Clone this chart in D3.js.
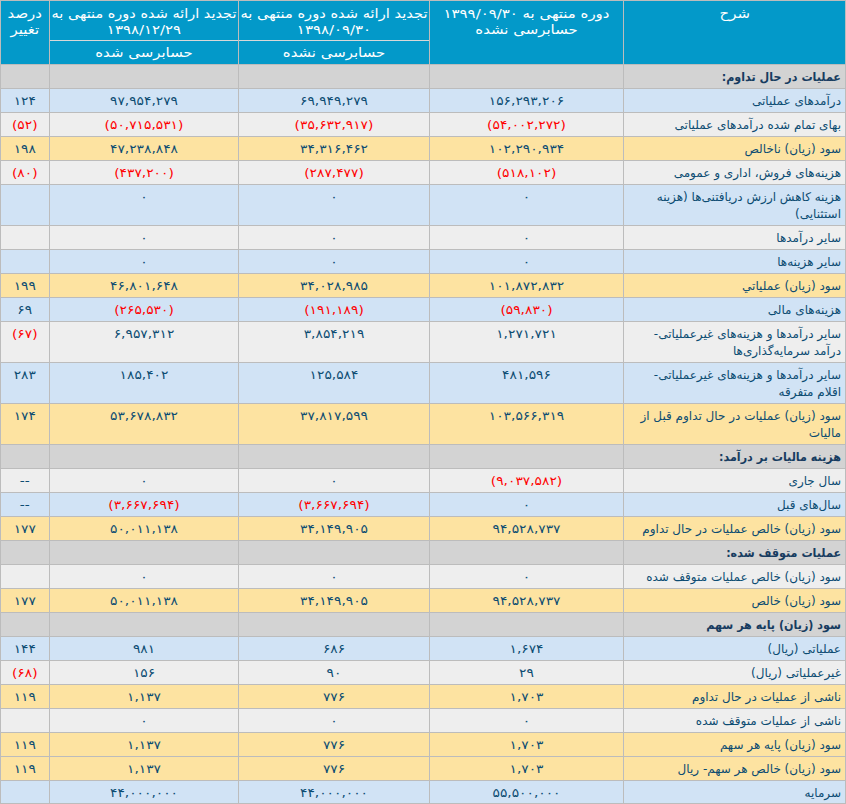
<!DOCTYPE html>
<html>
<head>
<meta charset="utf-8">
<script src="https://cdn.jsdelivr.net/npm/d3@7"></script>
<style>
  html, body { margin: 0; padding: 0; background: #ffffff; }
  svg { display: block; }
  text { font-family: "DejaVu Sans", Tahoma, sans-serif; }
</style>
</head>
<body>
<div id="chart"></div>
<script>
// ---------------- DATA ----------------
const headerCols = [
  { key: "label", lines: ["شرح"], sub: null },
  { key: "cur", lines: ["دوره منتهی به ۱۳۹۹/۰۹/۳۰", "حسابرسی نشده"], sub: null },
  { key: "prev", lines: ["تجدید ارائه شده دوره منتهی به", "۱۳۹۸/۰۹/۳۰"], sub: "حسابرسی نشده" },
  { key: "year", lines: ["تجدید ارائه شده دوره منتهی به", "۱۳۹۸/۱۲/۲۹"], sub: "حسابرسی شده" },
  { key: "pct", lines: ["درصد", "تغییر"], sub: null }
];

// row kinds: s = section, b = blue, g = grey, y = yellow
const rowKinds = ["s","b","g","y","g","b","g","b","y","b","g","b","y","s","g","b","y","s","g","y","s","b","g","y","g","y","y","b"];

const rowLabels = [
  ["عملیات در حال تداوم:"],
  ["درآمدهای عملیاتی"],
  ["بهای تمام شده درآمدهای عملیاتی"],
  ["سود (زیان) ناخالص"],
  ["هزینه‌های فروش، اداری و عمومی"],
  ["هزینه کاهش ارزش دریافتنی‌ها (هزینه", "استثنایی)"],
  ["سایر درآمدها"],
  ["سایر هزینه‌ها"],
  ["سود (زیان) عملیاتي"],
  ["هزینه‌های مالی"],
  ["سایر درآمدها و هزینه‌های غیرعملیاتی-", "درآمد سرمایه‌گذاری‌ها"],
  ["سایر درآمدها و هزینه‌های غیرعملیاتی-", "اقلام متفرقه"],
  ["سود (زیان) عملیات در حال تداوم قبل از", "مالیات"],
  ["هزینه مالیات بر درآمد:"],
  ["سال جاری"],
  ["سال‌های قبل"],
  ["سود (زیان) خالص عملیات در حال تداوم"],
  ["عملیات متوقف شده:"],
  ["سود (زیان) خالص عملیات متوقف شده"],
  ["سود (زیان) خالص"],
  ["سود (زیان) پایه هر سهم"],
  ["عملیاتی (ریال)"],
  ["غیرعملیاتی (ریال)"],
  ["ناشی از عملیات در حال تداوم"],
  ["ناشی از عملیات متوقف شده"],
  ["سود (زیان) پایه هر سهم"],
  ["سود (زیان) خالص هر سهم- ریال"],
  ["سرمایه"]
];

// values: null = empty cell
const curValues = [null,156293206,-54002272,102290934,-518102,0,0,0,101872832,-59830,1271721,481596,103566319,null,-9037582,0,94528737,null,0,94528737,null,1674,29,1703,0,1703,1703,55500000];
const prevValues = [null,69949279,-35632917,34316462,-287477,0,0,0,34028985,-191189,3854219,125584,37817599,null,0,-3667694,34149905,null,0,34149905,null,686,90,776,0,776,776,44000000];
const yearValues = [null,97954279,-50715531,47238848,-437200,0,0,0,46801648,-265530,6957312,185402,53678832,null,0,-3667694,50011138,null,0,50011138,null,981,156,1137,0,1137,1137,44000000];
// percent change: null = empty, "--" = dash
const pctValues = [null,124,-52,198,-80,null,null,null,199,69,-67,283,174,null,"--","--",177,null,null,177,null,144,-68,119,null,119,119,null];

// ---------------- LAYOUT / STYLE ----------------
const W = 846, H = 804;
const colBounds = { label: [623.5, 846], cur: [429.5, 623.5], prev: [238.5, 429.5], year: [49.5, 238.5], pct: [0, 49.5] };
const headerTop = 40, headerH = 64;
const singleH = 24, lineStep = 17;
const fills = { s: "#d3d3d3", b: "#d1e3f5", g: "#eeeeee", y: "#fde3a1" };
const headerFill = "#0399c9";
const gridColor = "#bcbcbc";
const textColor = "#0c4c72";
const sectionColor = "#173c60";
const negColor = "#ff0000";
const fontSize = 12;
const labelStretch = 1.0, sectionStretch = 0.93, numStretch = 1.15, headStretch = 1.15, headSize = 13;

const faDigits = "۰۱۲۳۴۵۶۷۸۹";
const toFa = s => String(s).replace(/[0-9]/g, d => faDigits[+d]);
const fmt = d3.format(",");
function cellText(v) {
  if (v === null || v === undefined) return null;
  if (typeof v === "string") return { t: v, neg: false };
  if (v < 0) return { t: "(" + toFa(fmt(-v)) + ")", neg: true };
  return { t: toFa(fmt(v)), neg: false };
}

// row geometry via cumulative heights
const rows = rowLabels.map((lines, i) => ({
  i, lines, kind: rowKinds[i],
  cur: curValues[i], prev: prevValues[i], year: yearValues[i], pct: pctValues[i]
}));
let yAcc = headerH;
rows.forEach(r => {
  r.h = singleH + (r.lines.length - 1) * lineStep;
  r.y = yAcc;
  yAcc += r.h;
});

const svg = d3.select("#chart").append("svg")
  .attr("width", W).attr("height", H)
  .attr("viewBox", `0 0 ${W} ${H}`);

function stretchedText(parent, x, y, sx, str) {
  return parent.append("text")
    .attr("transform", `translate(${x},${y}) scale(${sx},1)`)
    .attr("x", 0).attr("y", 0)
    .attr("dy", "0.35em")
    .text(str);
}

// ---- header ----
const hdr = svg.append("g");
hdr.append("rect").attr("x", 0).attr("y", 0).attr("width", W).attr("height", headerH).attr("fill", headerFill);

headerCols.forEach(c => {
  const [x0, x1] = colBounds[c.key];
  const cx = (x0 + x1) / 2;
  const all = c.lines.map((ln, k) => ({ ln, y: 13 + k * 16.5 }));
  if (c.sub) all.push({ ln: c.sub, y: 52 });
  all.forEach(o => {
    const t = stretchedText(hdr, cx, o.y, headStretch, o.ln)
      .attr("text-anchor", "middle")
      .attr("direction", "rtl")
      .attr("fill", "#ffffff")
      .attr("font-size", headSize);
    // keep inside the cell
    const avail = (x1 - x0) - 4;
    const w = t.node().getComputedTextLength() * headStretch;
    if (w > avail) t.attr("transform", `translate(${cx},${o.y}) scale(${headStretch * avail / w},1)`);
  });
});

// ---- body rows ----
const rg = svg.append("g").selectAll("g.row").data(rows).join("g").attr("class", "row");

rg.append("rect")
  .attr("x", 0).attr("y", d => d.y)
  .attr("width", W).attr("height", d => d.h)
  .attr("fill", d => fills[d.kind]);

rg.each(function(d) {
  const g = d3.select(this);
  const isSec = d.kind === "s";
  d.lines.forEach((ln, k) => {
    stretchedText(g, colBounds.label[1] - 5, d.y + 12.5 + k * lineStep, isSec ? sectionStretch : labelStretch, ln)
      .attr("text-anchor", "start")
      .attr("direction", "rtl")
      .attr("fill", isSec ? sectionColor : textColor)
      .attr("font-weight", isSec ? "bold" : "normal")
      .attr("font-size", fontSize);
  });
  ["cur", "prev", "year", "pct"].forEach(key => {
    const ct = cellText(d[key]);
    if (!ct) return;
    const [x0, x1] = colBounds[key];
    stretchedText(g, (x0 + x1) / 2, d.y + 12.5, numStretch, ct.t)
      .attr("text-anchor", "middle")
      .attr("fill", ct.neg ? negColor : textColor)
      .attr("font-size", fontSize);
  });
});

// ---- grid lines ----
const grid = svg.append("g").attr("stroke", gridColor).attr("stroke-width", 1).attr("shape-rendering", "crispEdges");
grid.selectAll("line.h").data(rows).join("line")
  .attr("x1", 0).attr("x2", W)
  .attr("y1", d => d.y + 0.5).attr("y2", d => d.y + 0.5);
grid.append("line").attr("x1", colBounds.year[0]).attr("x2", colBounds.prev[1])
  .attr("y1", headerTop + 0.5).attr("y2", headerTop + 0.5).attr("stroke", "#d8d8d8");
const vx = [colBounds.year[0], colBounds.prev[0], colBounds.cur[0], colBounds.label[0]];
grid.selectAll("line.v").data(vx).join("line")
  .attr("x1", d => d).attr("x2", d => d)
  .attr("y1", 0).attr("y2", H);
grid.append("rect").attr("x", 0.5).attr("y", 0.5).attr("width", W - 1).attr("height", H - 1).attr("fill", "none");
</script>
</body>
</html>
